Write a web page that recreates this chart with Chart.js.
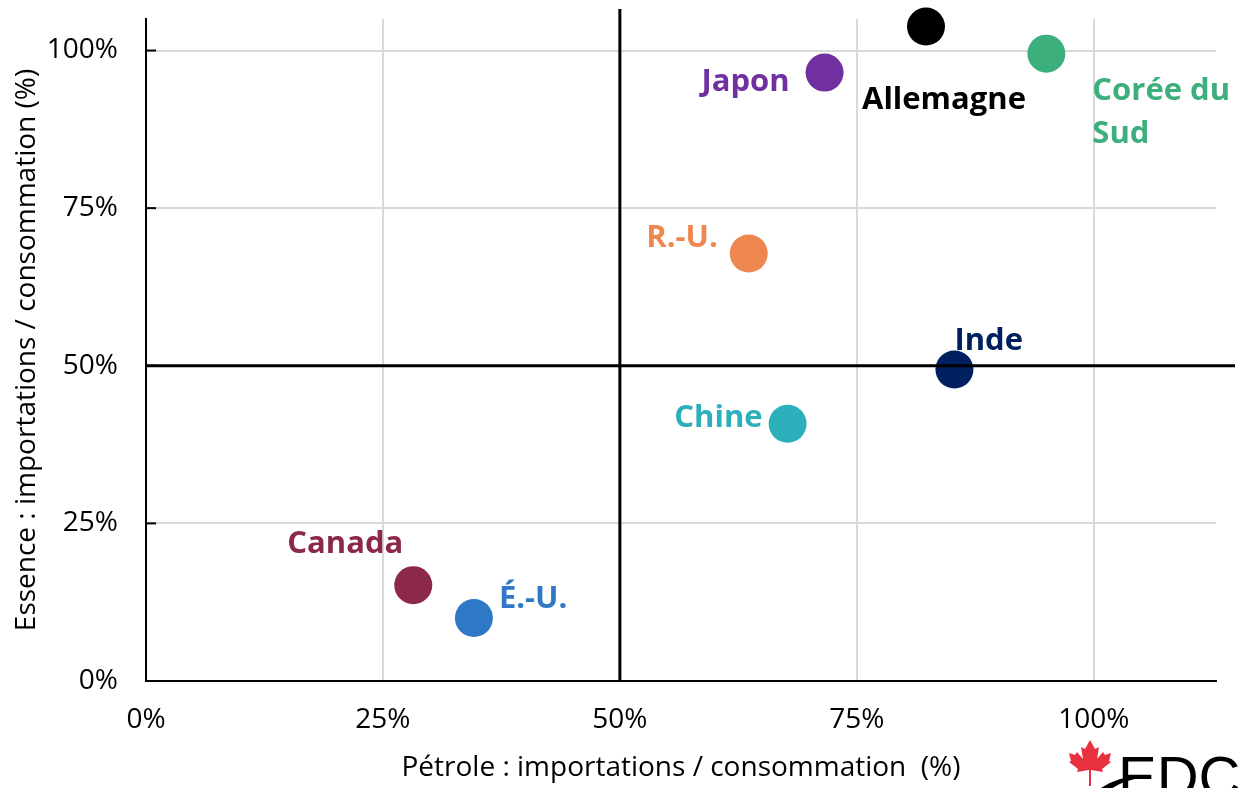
<!DOCTYPE html>
<html>
<head>
<meta charset="utf-8">
<script src="https://cdn.jsdelivr.net/npm/chart.js@4.4.0/dist/chart.umd.min.js"></script>
<style>
  html, body { margin: 0; padding: 0; background: #fff; }
  #wrap { position: relative; width: 1258px; height: 788px; }
</style>
</head>
<body>
<div id="wrap"><canvas id="myChart"></canvas></div>
<script>
var countries = ['Allemagne', 'Corée du Sud', 'Japon', 'R.-U.', 'Inde', 'Chine', 'Canada', 'É.-U.'];
var petrole = [82.3, 95.0, 71.6, 63.6, 85.3, 67.7, 28.2, 34.6];   // x : importations / consommation (%)
var essence = [103.8, 99.5, 96.5, 67.8, 49.4, 40.8, 15.2, 10.0];  // y : importations / consommation (%)
var xTicks = [0, 25, 50, 75, 100];
var yTicks = [0, 25, 50, 75, 100];

var colors = ['#000000', '#3daf7c', '#7030a0', '#ee8650', '#002060', '#2cb0bb', '#8b284b', '#2f78c5'];
var labelWrap = { 'Corée du Sud': ['Corée du', 'Sud'] };
// where each label sits relative to its point (px)
var labelPos = [
  { dx: -64, dy: 74, align: 'left' },
  { dx: 46, dy: 37, align: 'left' },
  { dx: -35, dy: 10, align: 'right' },
  { dx: -31, dy: -15, align: 'right' },
  { dx: 0, dy: -28, align: 'left' },
  { dx: -25, dy: -6, align: 'right' },
  { dx: -10, dy: -41, align: 'right' },
  { dx: 25, dy: -19, align: 'left' }
];

Chart.defaults.font.family = '"Open Sans", sans-serif';
Chart.defaults.color = '#000';

var points = petrole.map(function(v, i) { return { x: v, y: essence[i] }; });

var overlay = {
  id: 'overlay',
  afterDatasetsDraw: function(chart) {
    var ctx = chart.ctx, xs = chart.scales.x, ys = chart.scales.y, a = chart.chartArea;
    ctx.save();
    ctx.strokeStyle = '#000';
    ctx.lineWidth = 2;
    yTicks.forEach(function(v) {
      if (v === 0) return;
      var py = ys.getPixelForValue(v);
      ctx.beginPath(); ctx.moveTo(a.left, py); ctx.lineTo(a.left + 10, py); ctx.stroke();
    });
    // quadrant lines at 50 %
    ctx.lineWidth = 3;
    var cx = xs.getPixelForValue(50), cy = ys.getPixelForValue(50);
    ctx.beginPath(); ctx.moveTo(cx, a.top - 10); ctx.lineTo(cx, a.bottom); ctx.stroke();
    ctx.beginPath(); ctx.moveTo(a.left, cy); ctx.lineTo(a.right + 19, cy); ctx.stroke();

    var meta = chart.getDatasetMeta(0);
    ctx.font = 'bold 31px "Open Sans"';
    ctx.textBaseline = 'middle';
    meta.data.forEach(function(pt, i) {
      var p = labelPos[i];
      var lines = labelWrap[countries[i]] || [countries[i]];
      ctx.fillStyle = colors[i];
      ctx.textAlign = p.align;
      lines.forEach(function(line, k) {
        ctx.fillText(line, pt.x + p.dx, pt.y + p.dy + k * 43);
      });
    });
    ctx.restore();
  },
  afterDraw: function(chart) {
    // EDC logo corner (cut off by the bottom edge)
    var ctx = chart.ctx;
    ctx.save();
    ctx.translate(1090, 740);
    ctx.fillStyle = '#e8303f';
    var leaf = [[0,0],[5,9],[9,7],[7,19],[13,12],[15,15],[21,13],[19,21],[21,22],[12,29],[13,32],[1,30],[1,46],
                [-1,46],[-1,30],[-13,32],[-12,29],[-21,22],[-19,21],[-21,13],[-15,15],[-13,12],[-7,19],[-9,7],[-5,9]];
    ctx.beginPath();
    leaf.forEach(function(p, i) { if (i === 0) ctx.moveTo(p[0], p[1]); else ctx.lineTo(p[0], p[1]); });
    ctx.closePath();
    ctx.fill();
    ctx.restore();

    ctx.save();
    ctx.fillStyle = '#000';
    ctx.font = '58px "Liberation Sans Narrow", "Liberation Sans"';
    ctx.textAlign = 'left';
    ctx.textBaseline = 'alphabetic';
    ctx.fillText('EDC', 1118, 797);
    ctx.beginPath();
    ctx.moveTo(1098, 790);
    ctx.quadraticCurveTo(1120, 774, 1152, 776);
    ctx.quadraticCurveTo(1122, 780, 1110, 790);
    ctx.closePath();
    ctx.fill();
    ctx.restore();
  }
};

var ctx = document.getElementById('myChart').getContext('2d');
var myChart = new Chart(ctx, {
  type: 'scatter',
  data: {
    labels: countries,
    datasets: [{
      data: points,
      pointRadius: 19,
      pointHoverRadius: 19,
      pointBackgroundColor: colors,
      pointBorderColor: colors,
      pointBorderWidth: 0,
      clip: false
    }]
  },
  options: {
    responsive: true,
    maintainAspectRatio: false,
    animation: false,
    layout: { padding: { top: 16, right: 42, left: 0, bottom: 0 } },
    plugins: { legend: { display: false }, tooltip: { enabled: false } },
    scales: {
      x: {
        type: 'linear',
        min: 0,
        max: 112.9,
        afterBuildTicks: function(s) { s.ticks = xTicks.map(function(v) { return { value: v }; }); },
        afterFit: function(s) { s.height = 107; s.paddingLeft = 0; s.paddingRight = 0; },
        grid: { color: '#d9d9d9', lineWidth: 2, drawTicks: false },
        border: { display: true, color: '#000', width: 2 },
        ticks: { font: { size: 28 }, padding: 22, callback: function(v) { return v + '%'; } },
        title: { display: true, text: 'Pétrole : importations / consommation  (%)', font: { size: 28 }, padding: { top: 0, bottom: 3 } }
      },
      y: {
        type: 'linear',
        min: 0,
        max: 105,
        afterBuildTicks: function(s) { s.ticks = yTicks.map(function(v) { return { value: v }; }); },
        afterFit: function(s) { s.width = 146; s.paddingTop = 0; s.paddingBottom = 0; },
        grid: { color: '#d9d9d9', lineWidth: 2, drawTicks: false },
        border: { display: true, color: '#000', width: 2 },
        ticks: { font: { size: 28 }, padding: 28, callback: function(v) { return v + '%'; } },
        title: { display: true, text: 'Essence : importations / consommation (%)', font: { size: 28 }, padding: { top: 10, bottom: 0 } }
      }
    }
  },
  plugins: [overlay]
});
</script>
</body>
</html>
